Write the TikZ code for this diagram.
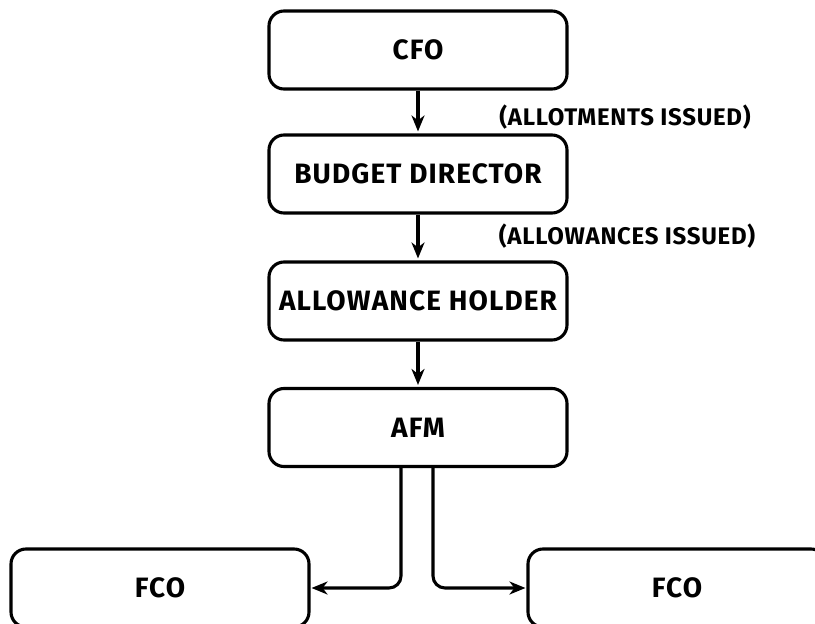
\documentclass[tikz,border=0pt]{standalone}
\usepackage{fontspec}
\setmainfont{Fira Sans}
\usetikzlibrary{arrows.meta}
\begin{document}
\begin{tikzpicture}[x=1pt,y=-1pt,
  box/.style={draw, line width=3.1pt, rounded corners=15pt, minimum width=298pt, minimum height=78pt, inner sep=0pt, font=\fontsize{28}{30}\selectfont\bfseries\addfontfeatures{LetterSpace=4}},
  lbl/.style={inner sep=0pt, font=\fontsize{24}{28}\selectfont\bfseries\addfontfeatures{LetterSpace=3}},
  arr/.style={line width=3.1pt, -{Stealth[length=16pt,width=13pt,inset=5pt]}}]
\useasboundingbox (0,0) rectangle (815,624);
\node[box] (cfo) at (418,50) {CFO};
\node[box] (bd) at (418,174) {BUDGET DIRECTOR};
\node[box] (ah) at (418,301) {ALLOWANCE HOLDER};
\node[box] (afm) at (418,427.5) {AFM};
\node[box] (fcol) at (160,588) {FCO};
\node[box] (fcor) at (677,588) {FCO};
\node[lbl] (l1) at (625,117) {(ALLOTMENTS ISSUED)};
\node[lbl] (l2) at (627,236) {(ALLOWANCES ISSUED)};
\draw[arr, shorten >=2pt] (cfo) -- (bd);
\draw[arr, shorten >=2pt] (bd) -- (ah);
\draw[arr, shorten >=2pt] (ah) -- (afm);
\draw[arr, rounded corners=12pt, shorten >=1pt] ([xshift=-17pt]afm.south) |- (fcol.east);
\draw[arr, rounded corners=12pt, shorten >=1pt] ([xshift=15pt]afm.south) |- (fcor.west);
\end{tikzpicture}
\end{document}
